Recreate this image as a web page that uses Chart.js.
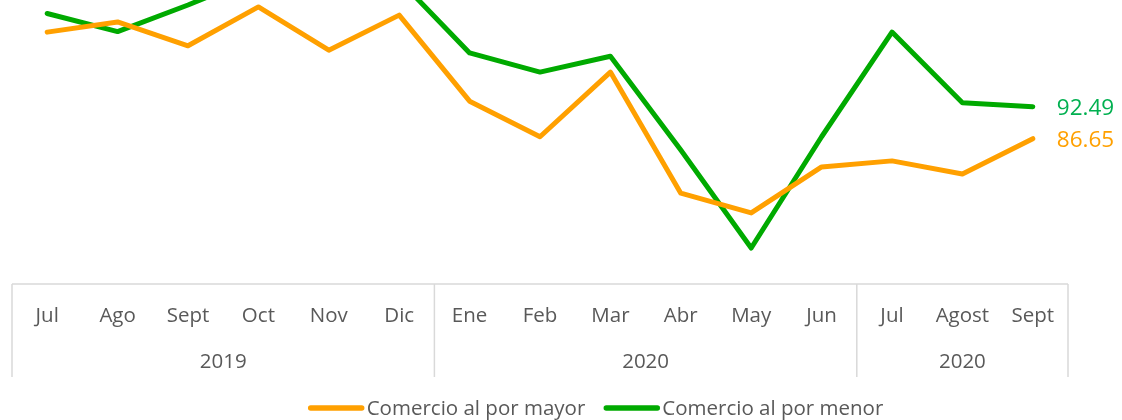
<!DOCTYPE html>
<html>
<head>
<meta charset="utf-8">
<script src="https://cdn.jsdelivr.net/npm/chart.js@4"></script>
<style>
  html, body { margin: 0; padding: 0; background: #fff; }
  #wrap { width: 1122px; height: 420px; position: relative; }
</style>
</head>
<body>
<div id="wrap"><canvas id="chart"></canvas></div>
<script>
// Data (top of the plot is cropped in the original)
const months = ['Jul', 'Ago', 'Sept', 'Oct', 'Nov', 'Dic', 'Ene', 'Feb', 'Mar', 'Abr', 'May', 'Jun', 'Jul', 'Agost', 'Sept'];
const years = ['2019', '2020', '2020'];
const yearSpans = [6, 6, 3];
const mayor = [106.1, 107.95, 103.6, 110.7, 102.8, 109.2, 93.5, 87.0, 98.8, 76.7, 73.1, 81.5, 82.6, 80.2, 86.65];
const menor = [109.5, 106.2, 111.05, 116.3, 117.0, 115.6, 102.3, 98.8, 101.7, 84.6, 66.7, 87.0, 106.1, 93.2, 92.49];
const seriesNames = ['Comercio al por mayor', 'Comercio al por menor'];

const ORANGE = '#FFA000';
const GREEN = '#00AA00';
const GREEN_LABEL = '#00B050';
const TEXT = '#595959';
const GRID = '#d9d9d9';
const FONT = '"Open Sans", sans-serif';

// Axis table, end labels and legend drawn on top of the chart
const decorations = {
  id: 'decorations',
  afterDraw(chart) {
    const { ctx, chartArea } = chart;
    const x = chart.scales.x;
    const half = (x.getPixelForValue(1) - x.getPixelForValue(0)) / 2;
    const top = chartArea.bottom;
    const boxBottom = top + 93;

    ctx.save();
    // table grid
    ctx.strokeStyle = GRID;
    ctx.lineWidth = 1.5;
    ctx.beginPath();
    ctx.moveTo(chartArea.left, top);
    ctx.lineTo(chartArea.right, top);
    let idx = 0;
    const bounds = [x.getPixelForValue(0) - half];
    yearSpans.forEach(n => { idx += n; bounds.push(x.getPixelForValue(idx - 1) + half); });
    bounds.forEach(b => { ctx.moveTo(b, top); ctx.lineTo(b, boxBottom); });
    ctx.stroke();

    // month labels
    ctx.fillStyle = TEXT;
    ctx.font = '20.5px ' + FONT;
    ctx.textAlign = 'center';
    ctx.textBaseline = 'middle';
    months.forEach((m, i) => ctx.fillText(m, x.getPixelForValue(i), top + 32));

    // year labels
    years.forEach((yr, i) => ctx.fillText(yr, (bounds[i] + bounds[i + 1]) / 2, top + 78));

    // end-of-line value labels
    ctx.font = '22.5px ' + FONT;
    ctx.textAlign = 'left';
    const last = months.length - 1;
    const labelColors = [ORANGE, GREEN_LABEL];
    chart.data.datasets.forEach((ds, d) => {
      const pt = chart.getDatasetMeta(d).data[last];
      ctx.fillStyle = labelColors[d];
      ctx.fillText(ds.data[last].toFixed(2), pt.x + 24, pt.y + 2);
    });

    // legend
    ctx.font = '20.5px ' + FONT;
    const sample = 55, gap = 3, itemGap = 19;
    const widths = seriesNames.map(n => sample + gap + ctx.measureText(n).width);
    const total = widths.reduce((a, b) => a + b, 0) + itemGap;
    let lx = 596 - total / 2;
    const ly = 408;
    chart.data.datasets.forEach((ds, d) => {
      ctx.strokeStyle = ds.borderColor;
      ctx.lineWidth = 5.5;
      ctx.lineCap = 'round';
      ctx.beginPath();
      ctx.moveTo(lx + 2, ly);
      ctx.lineTo(lx + sample - 2, ly);
      ctx.stroke();
      ctx.fillStyle = TEXT;
      ctx.fillText(ds.label, lx + sample + gap, ly + 1);
      lx += widths[d] + itemGap;
    });
    ctx.restore();
  }
};

new Chart(document.getElementById('chart'), {
  type: 'line',
  data: {
    labels: months,
    datasets: [
      { label: seriesNames[0], data: mayor, borderColor: ORANGE, backgroundColor: ORANGE },
      { label: seriesNames[1], data: menor, borderColor: GREEN, backgroundColor: GREEN }
    ]
  },
  options: {
    responsive: true,
    maintainAspectRatio: false,
    animation: false,
    devicePixelRatio: 1,
    layout: { padding: { left: 12, right: 54, top: 0, bottom: 136 } },
    elements: {
      line: { borderWidth: 5, tension: 0, borderCapStyle: 'round', borderJoinStyle: 'round' },
      point: { radius: 0, hoverRadius: 0 }
    },
    scales: {
      x: { type: 'category', offset: true, display: false },
      y: { display: false, min: 60.13, max: 111.96 }
    },
    plugins: {
      legend: { display: false },
      tooltip: { enabled: false }
    }
  },
  plugins: [decorations]
});
</script>
</body>
</html>
